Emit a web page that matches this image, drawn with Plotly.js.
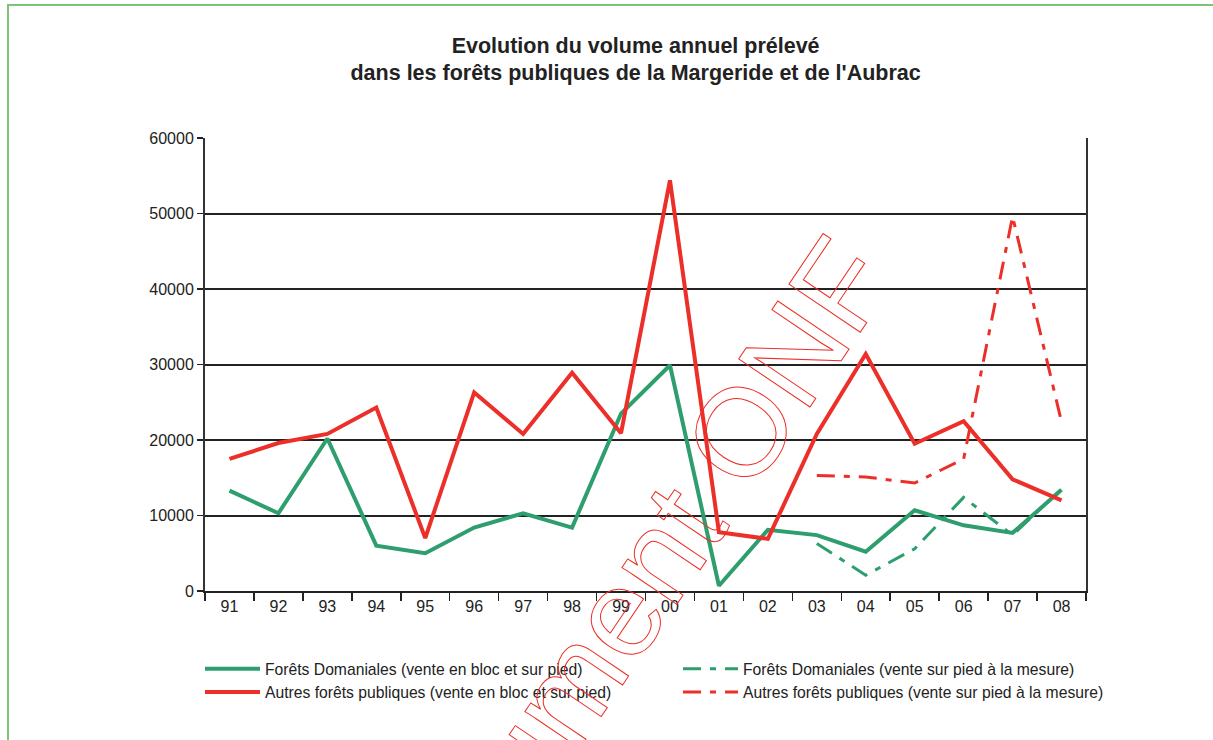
<!DOCTYPE html>
<html><head><meta charset="utf-8">
<script src="https://cdn.plot.ly/plotly-3.0.1.min.js"></script>
<style>html,body{margin:0;padding:0;background:#fff}#chart{width:1213px;height:740px}</style>
</head><body><div id="chart"></div>
<script>
// ---- data ----
const years = ['91','92','93','94','95','96','97','98','99','00','01','02','03','04','05','06','07','08'];
const domBloc    = [13300,10300,20200,6000,5000,8400,10300,8400,23500,29900,700,8100,7400,5200,10700,8700,7700,13400];
const autresBloc = [17500,19600,20800,24300,7000,26300,20800,28900,20900,54400,7800,6900,20800,31400,19500,22500,14800,12000];
const mesureYears   = ['03','04','05','06','07','08'];
const domMesure     = [6300,2100,5600,12400,7400,13500];
const autresMesure  = [15300,15100,14300,17500,49600,22400];
const names = [
  'Forêts Domaniales (vente en bloc et sur pied)',
  'Forêts Domaniales (vente sur pied à la mesure)',
  'Autres forêts publiques (vente en bloc et sur pied)',
  'Autres forêts publiques (vente sur pied à la mesure)'
];
const yTicks = [0,10000,20000,30000,40000,50000,60000];
const titleText = 'Evolution du volume annuel prélevé<br>dans les forêts publiques de la Margeride et de l\'Aubrac';
const watermark = 'document ONF';

// ---- style ----
const GREEN = '#2e9e6e', RED = '#ec2f28', FRAME = '#7cc47a';
const DASH = '18px,9px,6px,9px';
const W = 1213, H = 740;
const M = {l:205, r:127, t:138, b:149, autoexpand:false};
const pw = W - M.l - M.r, ph = H - M.t - M.b;
const px2x = p => (p - M.l) / pw;
const px2y = p => (H - M.b - p) / ph;
const FONT = 'Liberation Sans, Arial, sans-serif';

const traces = [
  {x: years, y: domBloc, name: names[0], type:'scatter', mode:'lines', line:{color:GREEN, width:4}, legend:'legend'},
  {x: mesureYears, y: domMesure, name: names[1], type:'scatter', mode:'lines', line:{color:GREEN, width:3, dash:DASH}, legend:'legend2'},
  {x: years, y: autresBloc, name: names[2], type:'scatter', mode:'lines', line:{color:RED, width:4}, legend:'legend'},
  {x: mesureYears, y: autresMesure, name: names[3], type:'scatter', mode:'lines', line:{color:RED, width:3, dash:DASH}, legend:'legend2'}
];

const legendBase = {orientation:'v', xref:'container', yref:'container', xanchor:'left',
  y: 1 - 652/H, yanchor:'top', itemwidth: 55, tracegroupgap: 0, traceorder:'normal',
  font:{family: FONT, size: 15.7, color:'#222'}, bgcolor:'rgba(0,0,0,0)'};

const layout = {
  width: W, height: H,
  margin: M,
  paper_bgcolor: '#fff', plot_bgcolor: '#fff',
  font: {family: FONT, size: 16, color: '#222'},
  title: {text: titleText, font:{family: FONT, size: 21.5, weight: 'bold', color:'#222'},
          xref:'container', x: 0.524, xanchor:'center', yref:'container', y: 0.929, yanchor:'top',
          automargin:false},
  xaxis: {type:'category', categoryorder:'array', categoryarray: years,
          range:[-0.5, years.length - 0.5], automargin:false,
          showline:true, linecolor:'#222', linewidth:2,
          ticks:'outside', tickson:'boundaries', ticklen:8, tickwidth:1.5, tickcolor:'#222',
          showgrid:false, zeroline:false, tickfont:{size:16, color:'#222'}},
  yaxis: {range:[0, 60000], tickvals: yTicks, ticktext: yTicks.map(String), automargin:false,
          showline:true, mirror:true, linecolor:'#333', linewidth:2,
          ticks:'outside', ticklen:6, tickwidth:1.5, tickcolor:'#222',
          showgrid:true, gridcolor:'#222', gridwidth:2, zeroline:false,
          tickfont:{size:16, color:'#222'}},
  showlegend: true,
  legend: Object.assign({}, legendBase, {x: 200/W}),
  legend2: Object.assign({}, legendBase, {x: 678/W}),
  shapes: [
    {type:'path', xref:'paper', yref:'paper',
     path: 'M ' + px2x(8) + ' ' + px2y(H + 5) + ' L ' + px2x(8) + ' ' + px2y(5) + ' L ' + px2x(W + 5) + ' ' + px2y(5),
     line:{color: FRAME, width: 2}}
  ],
  annotations: [
    {text: watermark, xref:'paper', yref:'paper', x: px2x(624), y: px2y(604),
     xanchor:'center', yanchor:'middle', textangle: -56, showarrow:false,
     font:{family: FONT, size: 125, color: RED}, name:'watermark'}
  ]
};

Plotly.newPlot('chart', traces, layout, {displayModeBar:false, staticPlot:true}).then(() => {
  document.querySelectorAll('.annotation-text').forEach(t => {
    if (t.textContent === watermark) {
      t.style.fill = 'none';
      t.style.stroke = RED;
      t.style.strokeWidth = '1px';
    }
  });
});
</script>
</body></html>
